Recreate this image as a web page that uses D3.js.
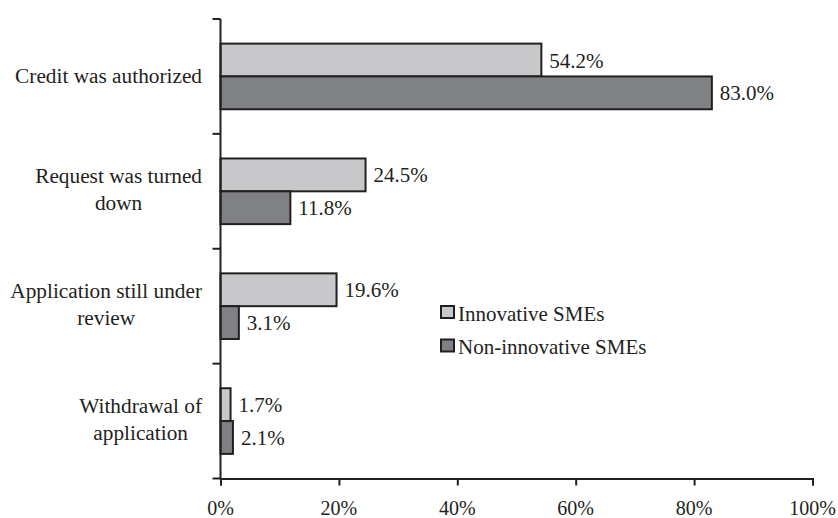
<!DOCTYPE html>
<html>
<head>
<meta charset="utf-8">
<script src="https://cdn.jsdelivr.net/npm/d3@7"></script>
<style>
  svg text { font-family: "Liberation Serif" !important; }
</style>
</head>
<body style="margin:0">
<svg id="chart" width="838" height="518"></svg>
<script>
const categories = [
  ["Credit was authorized"],
  ["Request was turned", "down"],
  ["Application still under", "review"],
  ["Withdrawal of", "application"]
];
const seriesNames = ["Innovative SMEs", "Non-innovative SMEs"];
const innovative = [54.2, 24.5, 19.6, 1.7];
const nonInnovative = [83.0, 11.8, 3.1, 2.1];
const xTicks = [0, 20, 40, 60, 80, 100];
const colors = ["#c8c8ca", "#808184"];

const svg = d3.select("#chart");
const ink = "#231f20";
const catKeys = categories.map((c, i) => i);

const x = d3.scaleLinear().domain([0, 100]).range([220.5, 812.5]);
const y = d3.scaleBand().domain(catKeys).range([19, 478.5]).padding(0);
const ySub = d3.scaleBand().domain([0, 1]).range([0, y.bandwidth()]).paddingInner(0).paddingOuter(0.75);

const seriesVals = [innovative, nonInnovative];

function addText(sel, size) {
  return sel.append("text")
    .style("font-family", '"Liberation Serif"')
    .attr("font-size", size)
    .attr("fill", ink);
}

// bars
catKeys.forEach(ci => {
  seriesVals.forEach((vals, si) => {
    const y0 = y(ci) + ySub(si);
    svg.append("rect")
      .attr("x", x(0))
      .attr("y", y0)
      .attr("width", x(vals[ci]) - x(0))
      .attr("height", ySub.bandwidth())
      .attr("fill", colors[si])
      .attr("stroke", ink)
      .attr("stroke-width", 2);
  });
});
catKeys.forEach(ci => {
  seriesVals.forEach((vals, si) => {
    const y0 = y(ci) + ySub(si);
    addText(svg, 21)
      .attr("x", x(vals[ci]) + 8)
      .attr("y", y0 + ySub.bandwidth() / 2 + 7.5)
      .text(vals[ci].toFixed(1) + "%");
  });
});

// y axis line and ticks at band boundaries
svg.append("line")
  .attr("x1", x(0)).attr("x2", x(0))
  .attr("y1", y.range()[0]).attr("y2", y.range()[1])
  .attr("stroke", ink).attr("stroke-width", 2);
const bounds = catKeys.map(c => y(c)).concat([y.range()[1]]);
bounds.forEach(b => {
  svg.append("line")
    .attr("x1", x(0) - 8).attr("x2", x(0))
    .attr("y1", b).attr("y2", b)
    .attr("stroke", ink).attr("stroke-width", 2);
});

// x axis
const xAxis = svg.append("g")
  .attr("transform", `translate(0,${y.range()[1]})`)
  .call(d3.axisBottom(x).tickValues(xTicks).tickFormat("").tickSize(7));
xAxis.attr("font-family", null);
xAxis.select(".domain").attr("stroke", ink).attr("stroke-width", 2);
xAxis.selectAll(".tick line").attr("stroke", ink).attr("stroke-width", 2);
xAxis.selectAll(".tick text").remove();
xTicks.forEach(t => {
  addText(svg, 20)
    .attr("x", x(t))
    .attr("y", 515)
    .attr("text-anchor", "middle")
    .text(t + "%");
});

// category labels (centered block, right edge at 202)
const rightEdge = 202;
const lineH = 27;
catKeys.forEach(ci => {
  const lines = categories[ci];
  const center = y(ci) + y.bandwidth() / 2;
  const ys = lines.map((ln, li) => center + 6.5 - (lines.length - 1) * 14.8 + li * lineH);
  const texts = lines.map((ln, li) => addText(svg, 21.3)
    .attr("y", ys[li])
    .attr("text-anchor", "middle")
    .text(ln));
  let maxW = 0;
  texts.forEach(s => { maxW = Math.max(maxW, s.node().getComputedTextLength()); });
  texts.forEach(s => s.attr("x", rightEdge - maxW / 2));
});

// legend
seriesNames.forEach((name, i) => {
  const ly = 305 + i * 33.5;
  svg.append("rect")
    .attr("x", 441).attr("y", ly + 1)
    .attr("width", 13).attr("height", 12)
    .attr("fill", colors[i])
    .attr("stroke", ink).attr("stroke-width", 2);
  addText(svg, 21)
    .attr("x", 458).attr("y", ly + 15.5)
    .text(name);
});
</script>
</body>
</html>
